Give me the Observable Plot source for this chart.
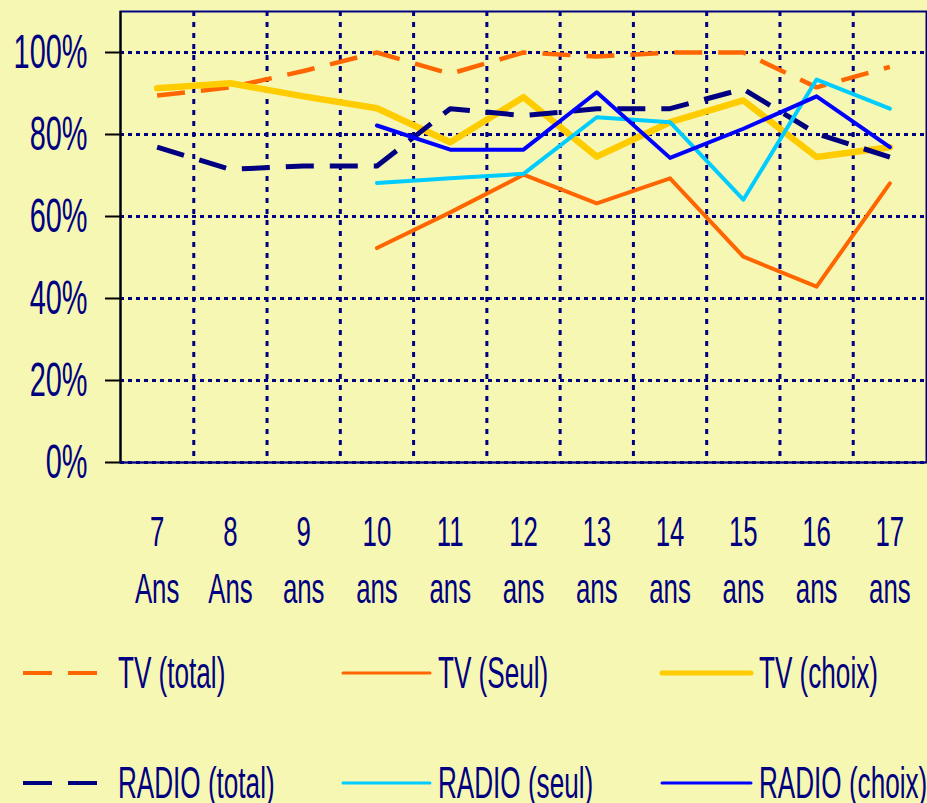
<!DOCTYPE html>
<html><head><meta charset="utf-8">
<script src="https://cdn.jsdelivr.net/npm/d3@7"></script>
<script src="https://cdn.jsdelivr.net/npm/@observablehq/plot@0.6"></script>
<style>
html,body{margin:0;padding:0;background:#f7f7b4;}
#wrap{position:relative;width:927px;height:803px;background:#f7f7b4;overflow:hidden;font-family:"Liberation Sans",Arial,sans-serif;color:#000080;}
#chart svg{display:block;}
.sw{position:absolute;overflow:visible;}
.lt{position:absolute;font-size:45px;line-height:50px;height:50px;white-space:nowrap;transform:scaleX(0.58);transform-origin:left center;}
</style></head><body><div id="wrap"><div id="chart"></div></div>
<script>
const ages = [7, 8, 9, 10, 11, 12, 13, 14, 15, 16, 17];
const ageUnits = ["Ans", "Ans", "ans", "ans", "ans", "ans", "ans", "ans", "ans", "ans", "ans"];
const yTicks = [0, 20, 40, 60, 80, 100];
const seriesNames = ["TV (total)", "TV (Seul)", "TV (choix)", "RADIO (total)", "RADIO (seul)", "RADIO (choix)"];
const tvTotal    = [89.5, 91.5, 95.5, 100, 94.8, 100, 99, 100, 100, 91.5, 96.5];
const tvSeul     = [null, null, null, 52.3, 61, 70.2, 63.2, 69.3, 50.2, 42.9, 68.1];
const tvChoix    = [91.3, 92.5, 89.3, 86.4, 78.1, 89.1, 74.6, 83, 88.3, 74.5, 76.9];
const radioTotal = [76.9, 71.5, 72.3, 72.3, 86.3, 84.6, 86.3, 86.3, 91.1, 80.2, 74.5];
const radioSeul  = [null, null, null, 68.2, 69.3, 70.4, 84.2, 83, 64.1, 93.4, 86.3];
const radioChoix = [null, null, null, 82.2, 76.3, 76.3, 90.3, 74.3, 81.4, 89.3, 76.9];
const seriesValues = [tvTotal, tvSeul, tvChoix, radioTotal, radioSeul, radioChoix];

const navy = "#000080";
const seriesStyles = [
  {stroke: "#ff6600", strokeWidth: 4.5, strokeDasharray: "28,16", strokeLinecap: "butt"},
  {stroke: "#ff6600", strokeWidth: 4, strokeLinecap: "round"},
  {stroke: "#ffcc00", strokeWidth: 6.5, strokeLinecap: "round"},
  {stroke: navy, strokeWidth: 5, strokeDasharray: "28,16", strokeLinecap: "butt"},
  {stroke: "#00ccff", strokeWidth: 4, strokeLinecap: "round"},
  {stroke: "#0000ff", strokeWidth: 4, strokeLinecap: "round"}
];

const xDomain = [ages[0] - 0.5, ages[ages.length - 1] + 0.5];
const gridXTicks = ages.slice(1).map(a => a - 0.5);
const fontFam = '"Liberation Sans",Arial,sans-serif';

const lineMarks = seriesValues.map((vals, s) =>
  Plot.line(
    ages.map((a, i) => ({age: a, value: vals[i]})).filter(d => d.value != null),
    {x: "age", y: "value", strokeLinejoin: "round", ...seriesStyles[s]}
  )
);

const svg = Plot.plot({
  width: 927, height: 630,
  marginLeft: 120, marginRight: 1, marginTop: 11, marginBottom: 168,
  style: {background: "transparent", fontFamily: fontFam, color: navy, overflow: "visible"},
  x: {type: "linear", domain: xDomain, label: null},
  y: {domain: [0, 110], label: null},
  marks: [
    Plot.gridY({ticks: yTicks, stroke: navy, strokeOpacity: 1, strokeWidth: 3, strokeDasharray: "4,4"}),
    Plot.gridX({ticks: gridXTicks, stroke: navy, strokeOpacity: 1, strokeWidth: 3, strokeDasharray: "5,6"}),
    Plot.frame({stroke: navy, strokeWidth: 2}),
    Plot.ruleY([0], {stroke: navy, strokeWidth: 1.5}),
    Plot.ruleX([xDomain[0]], {stroke: "black", strokeWidth: 2}),
    ...lineMarks,
    Plot.axisY({ticks: yTicks, tickSize: 15, stroke: "black", strokeWidth: 2, tickFormat: () => "", label: null}),
    Plot.axisY({ticks: yTicks, tickSize: 0, tickPadding: 33, fontSize: 49, fill: navy, tickFormat: d => d + "%", label: null, className: "ylab"}),
    Plot.axisX({ticks: ages, tickSize: 0, tickPadding: 44, fontSize: 43, lineHeight: 1.31, fill: navy,
      tickFormat: d => `${d}\n${ageUnits[ages.indexOf(d)]}`, label: null, className: "xlab"})
  ]
});

// condense the text horizontally (the reference uses a very narrow face)
svg.querySelectorAll("text").forEach(t => {
  const isY = t.closest(".ylab") != null;
  const s = isY ? 0.59 : 0.6;
  const xa = t.getAttribute("x");
  const x = xa != null && !isNaN(+xa) ? +xa : 0;
  if (xa != null && !isNaN(+xa)) t.removeAttribute("x");
  const tr = t.getAttribute("transform") || "";
  t.setAttribute("transform", `${tr} translate(${x},0) scale(${s},1)`);
});
document.getElementById("chart").appendChild(svg);

// legend
const legendCols = [{sx: 23, sw: 74, tx: 118}, {sx: 343, sw: 87, tx: 438}, {sx: 662, sw: 89, tx: 759}];
const legendRows = [673, 783];
const wrap = document.getElementById("wrap");
seriesNames.forEach((name, i) => {
  const c = legendCols[i % 3], r = legendRows[Math.floor(i / 3)], st = seriesStyles[i];
  const sw = document.createElementNS("http://www.w3.org/2000/svg", "svg");
  sw.setAttribute("class", "sw");
  sw.setAttribute("width", c.sw); sw.setAttribute("height", 10);
  sw.style.left = c.sx + "px"; sw.style.top = (r - 5) + "px";
  const ln = document.createElementNS("http://www.w3.org/2000/svg", "line");
  ln.setAttribute("x1", 0); ln.setAttribute("x2", c.sw); ln.setAttribute("y1", 5); ln.setAttribute("y2", 5);
  ln.setAttribute("stroke", st.stroke);
  ln.setAttribute("stroke-width", st.strokeDasharray ? 4 : Math.max(3, st.strokeWidth - 1.5));
  if (st.strokeDasharray) ln.setAttribute("stroke-dasharray", "29,16");
  else ln.setAttribute("stroke-linecap", "round");
  sw.appendChild(ln);
  wrap.appendChild(sw);
  const tx = document.createElement("div");
  tx.className = "lt";
  tx.textContent = name;
  tx.style.left = c.tx + "px"; tx.style.top = (r - 25) + "px";
  wrap.appendChild(tx);
});
</script></body></html>
